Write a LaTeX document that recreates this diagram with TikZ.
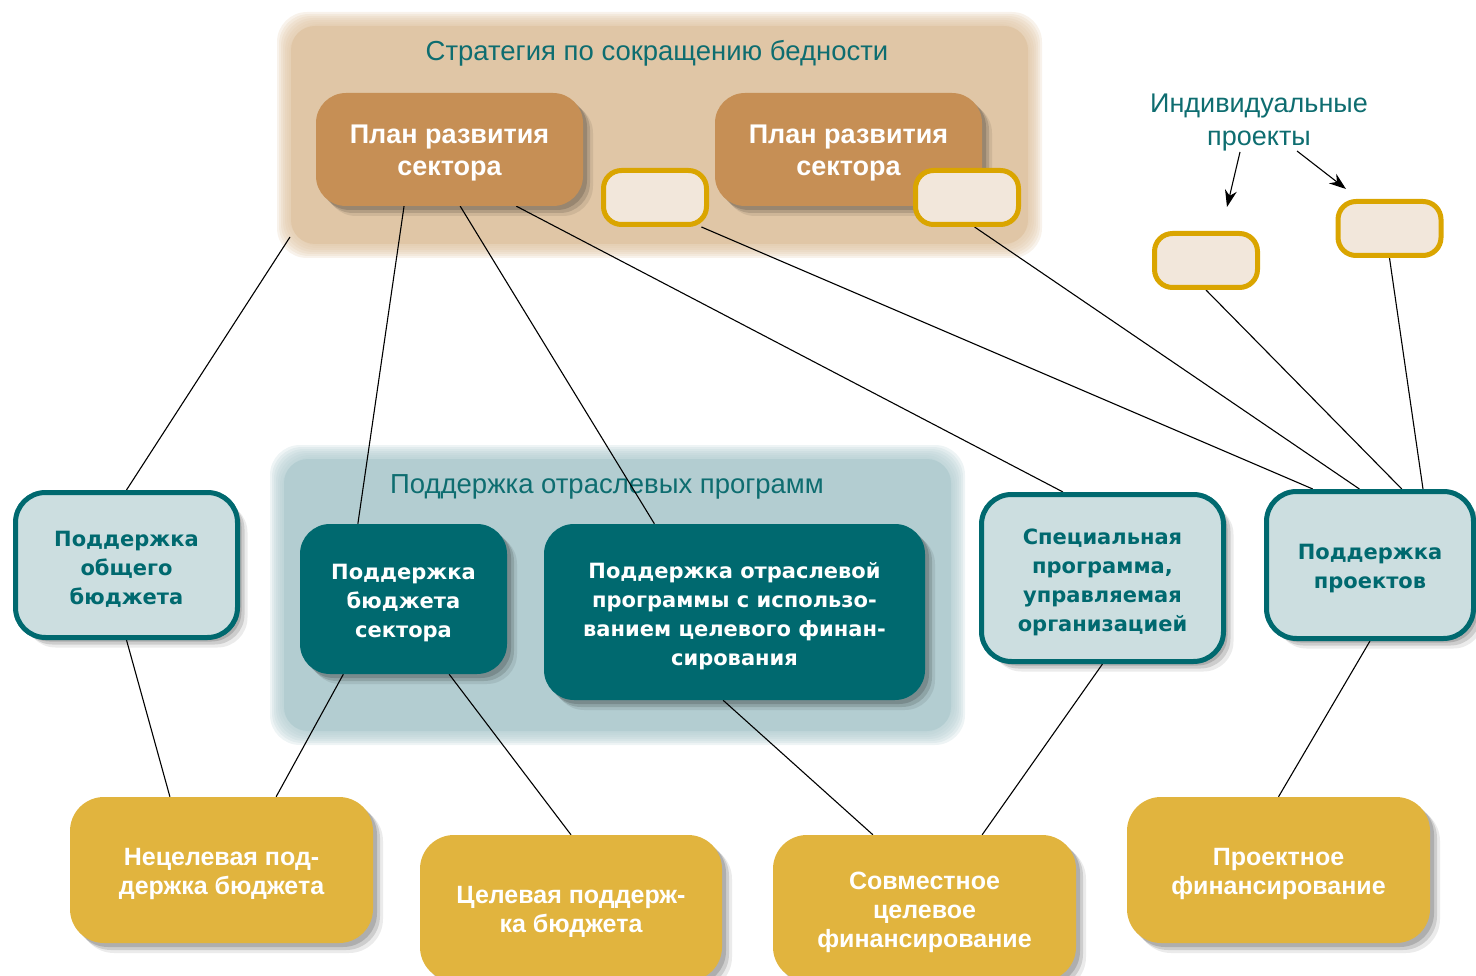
\documentclass[tikz,border=0pt]{standalone}
\usepackage{fontspec}
\setmainfont{Liberation Sans}
\newfontfamily\widefont{DejaVu Sans}
\usetikzlibrary{shadows,calc,arrows.meta}
\definecolor{brbg}{HTML}{E0C6A6}
\definecolor{tealbg}{HTML}{B3CDD1}
\definecolor{plancol}{HTML}{C68F55}
\definecolor{tealdark}{HTML}{00696F}
\definecolor{teallight}{HTML}{CCDEE0}
\definecolor{yell}{HTML}{E1B43E}
\definecolor{smallfill}{HTML}{F2E7DB}
\definecolor{smallborder}{HTML}{DAA500}
\definecolor{tealtext}{HTML}{0E6D70}
\pgfdeclarelayer{bg}
\pgfdeclarelayer{edges}
\pgfsetlayers{bg,edges,main}
\tikzset{
  shad/.style={drop shadow={shadow xshift=4pt,shadow yshift=-4pt,fill=black,opacity=0.15},
               drop shadow={shadow xshift=7pt,shadow yshift=-7pt,fill=black,opacity=0.13},
               drop shadow={shadow xshift=10pt,shadow yshift=-10pt,fill=black,opacity=0.08}},
  lightbox/.style={shad,draw=tealdark,line width=5pt,fill=teallight,rounded corners=30pt,inner sep=0pt},
  darkbox/.style={shad,fill=tealdark,rounded corners=30pt,inner sep=0pt},
  planbox/.style={shad,fill=plancol,rounded corners=30pt,inner sep=0pt},
  yellbox/.style={shad,fill=yell,rounded corners=34pt,inner sep=0pt},
  ltxt/.style={align=center,inner sep=0pt,yshift=-4pt,text=tealdark,font=\widefont\bfseries\fontsize{21}{29}\selectfont},
  dtxt/.style={align=center,inner sep=0pt,yshift=-4pt,text=white,font=\widefont\bfseries\fontsize{21}{29}\selectfont},
  ptxt/.style={align=center,inner sep=0pt,yshift=-4pt,text=white,font=\bfseries\fontsize{27}{32}\selectfont},
  ytxt/.style={align=center,inner sep=0pt,yshift=-4pt,text=white,font=\bfseries\fontsize{25}{29}\selectfont},
  smallbox/.style={draw=smallborder,line width=5pt,fill=smallfill,rounded corners=18pt,inner sep=0pt,
    minimum width=103pt,minimum height=54pt},
  conn/.style={line width=1.1pt,black},
  lbl/.style={text=tealtext,align=center,inner sep=0pt},
}
\begin{document}
\begin{tikzpicture}[x=1pt,y=-1pt]
\useasboundingbox (0,0) rectangle (1476,976);
% background regions
\begin{pgfonlayer}{bg}
\foreach \d in {0,2,...,12}{
  \fill[brbg,opacity=0.22,rounded corners=30pt] (277+\d,12+\d) rectangle (1042-\d,258-\d);
  \fill[tealbg,opacity=0.22,rounded corners=30pt] (270+\d,445+\d) rectangle (965-\d,745-\d);
}
\fill[brbg,rounded corners=24pt] (291,26) rectangle (1028,244);
\fill[tealbg,rounded corners=24pt] (284,459) rectangle (951,731);
\node[lbl,font=\fontsize{27.5}{32}\selectfont] (strat) at (657,53) {Стратегия по сокращению бедности};
\node[lbl,font=\fontsize{27.5}{30}\selectfont] (sect) at (607,487) {Поддержка отраслевых программ};
\end{pgfonlayer}
\coordinate (stratcorner) at (290,237);
\node[lbl,font=\fontsize{27}{33}\selectfont] (ind) at (1259,123) {Индивидуальные\\проекты};
\coordinate (a1s) at (1240,152);
\coordinate (a1e) at (1227,207);
\coordinate (a2s) at (1297,151);
\coordinate (a2e) at (1346,189);
\draw[conn,-{Stealth[length=17pt,width=12pt]}] (a1s) -- (a1e);
\draw[conn,-{Stealth[length=17pt,width=12pt]}] (a2s) -- (a2e);
% top nodes
\node[planbox,minimum width=267pt,minimum height=113pt,label={[ptxt]center:{План развития\\сектора}}] (plan1) at (449.5,149.5) {};
\node[planbox,minimum width=267pt,minimum height=113pt,label={[ptxt]center:{План развития\\сектора}}] (plan2) at (848.5,149.5) {};
\node[smallbox] (small1) at (655,197.5) {};
\node[smallbox] (small2) at (967,197.5) {};
\node[smallbox] (small3) at (1206,260.5) {};
\node[smallbox] (small4) at (1389.5,228.5) {};
% middle nodes
\node[lightbox,minimum width=222pt,minimum height=145pt,label={[ltxt]center:{Поддержка\\общего\\бюджета}}] (gbs) at (126.5,565) {};
\node[darkbox,minimum width=207pt,minimum height=150pt,label={[dtxt]center:{Поддержка\\бюджета\\сектора}}] (sbs) at (403.5,599) {};
\node[darkbox,minimum width=381pt,minimum height=176pt,label={[dtxt]center:{Поддержка отраслевой\\программы с использо-\\ванием целевого финан-\\сирования}}] (spp) at (734.5,612) {};
\node[lightbox,minimum width=242pt,minimum height=167pt,label={[ltxt]center:{Специальная\\программа,\\управляемая\\организацией}}] (spec) at (1102.5,578) {};
\node[lightbox,minimum width=207pt,minimum height=147pt,label={[ltxt]center:{Поддержка\\проектов}}] (proj) at (1370,565) {};
% bottom nodes
\node[yellbox,minimum width=303pt,minimum height=146pt,label={[ytxt]center:{Нецелевая под-\\держка бюджета}}] (y1) at (221.5,870) {};
\node[yellbox,minimum width=302pt,minimum height=146pt,label={[ytxt]center:{Целевая поддерж-\\ка бюджета}}] (y2) at (571,908) {};
\node[yellbox,minimum width=303pt,minimum height=146pt,label={[ytxt]center:{Совместное\\целевое\\финансирование}}] (y3) at (924.5,908) {};
\node[yellbox,minimum width=303pt,minimum height=146pt,label={[ytxt]center:{Проектное\\финансирование}}] (y4) at (1278.5,870) {};
% connectors
\begin{pgfonlayer}{edges}
\draw[conn] (stratcorner) -- (gbs.north);
\draw[conn] ($(plan1.south west)!0.33!(plan1.south east)$) -- ($(sbs.north west)!0.28!(sbs.north east)$);
\draw[conn] ($(plan1.south west)!0.54!(plan1.south east)$) -- ($(spp.north west)!0.29!(spp.north east)$);
\draw[conn] ($(plan1.south west)!0.75!(plan1.south east)$) -- ($(spec.north west)!0.34!(spec.north east)$);
\draw[conn] ($(small1.south west)!0.93!(small1.south east)$) -- ($(proj.north west)!0.23!(proj.north east)$);
\draw[conn] ($(small2.south west)!0.57!(small2.south east)$) -- ($(proj.north west)!0.45!(proj.north east)$);
\draw[conn] (small3.south) -- ($(proj.north west)!0.65!(proj.north east)$);
\draw[conn] (small4.south) -- ($(proj.north west)!0.75!(proj.north east)$);
\draw[conn] (gbs.south) -- ($(y1.north west)!0.33!(y1.north east)$);
\draw[conn] ($(sbs.south west)!0.21!(sbs.south east)$) -- ($(y1.north west)!0.68!(y1.north east)$);
\draw[conn] ($(sbs.south west)!0.72!(sbs.south east)$) -- (y2.north);
\draw[conn] ($(spp.south west)!0.47!(spp.south east)$) -- ($(y3.north west)!0.33!(y3.north east)$);
\draw[conn] (spec.south) -- ($(y3.north west)!0.69!(y3.north east)$);
\draw[conn] (proj.south) -- (y4.north);
\end{pgfonlayer}
\end{tikzpicture}
\end{document}
